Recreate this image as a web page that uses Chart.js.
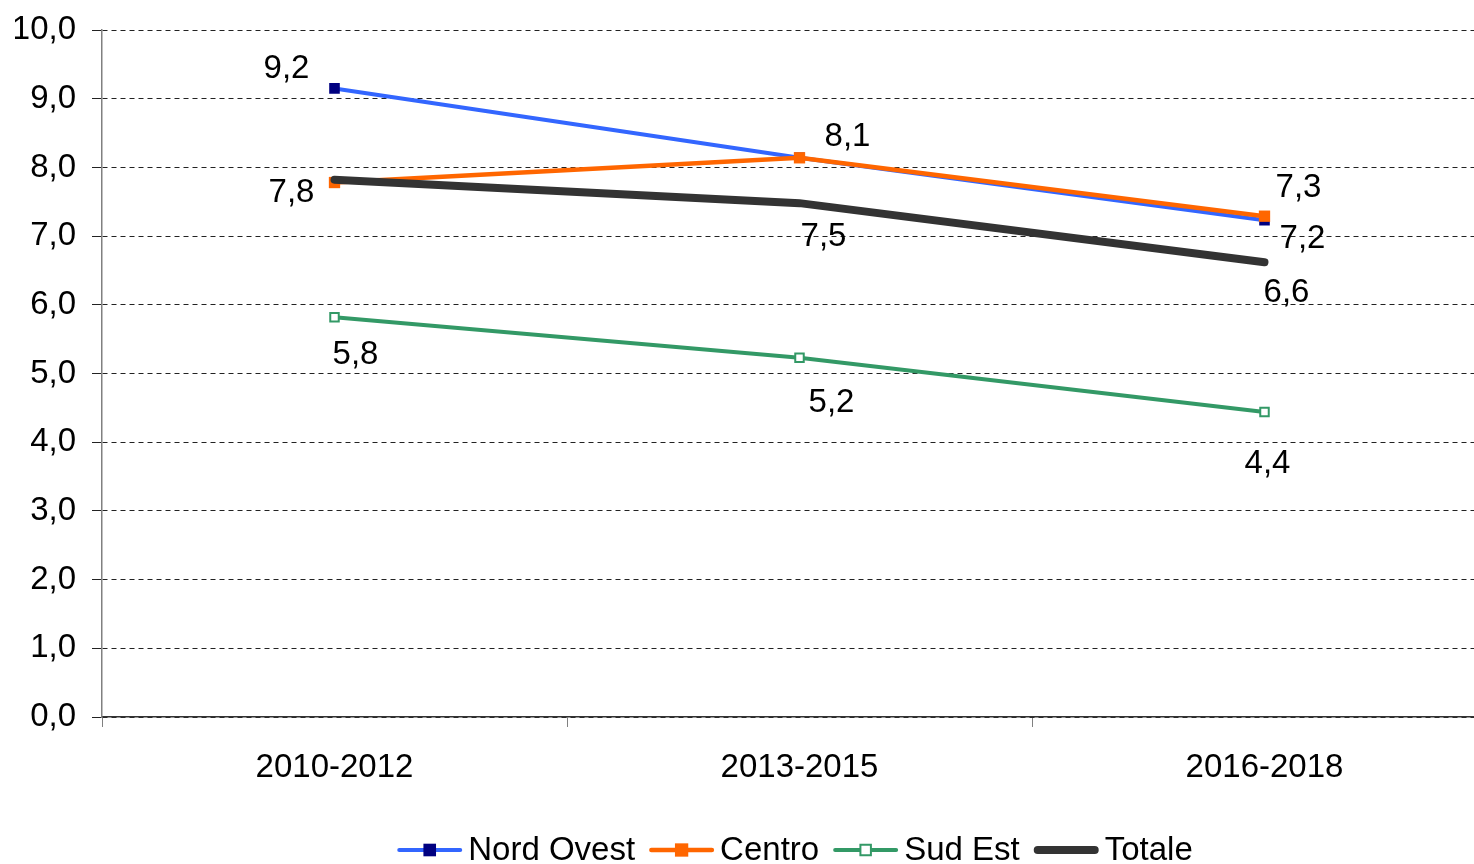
<!DOCTYPE html>
<html>
<head>
<meta charset="utf-8">
<script src="https://cdn.jsdelivr.net/npm/chart.js@4"></script>
<style>
  html, body { margin: 0; padding: 0; background: #fff; overflow: hidden; }
  #wrap { position: absolute; left: 0; top: 0; width: 1590px; height: 864px; }
</style>
</head>
<body>
<div id="wrap"><canvas id="chart" width="1590" height="864"></canvas></div>
<script>
// dati
const categories = ['2010-2012', '2013-2015', '2016-2018'];
const nordOvest = [9.15, 8.14, 7.23];
const centro = [7.78, 8.14, 7.29];
const sudEst = [5.82, 5.23, 4.44];
const totale = [7.82, 7.48, 6.62];
const yTicks = [0, 1, 2, 3, 4, 5, 6, 7, 8, 9, 10];

const FONT = '"Liberation Sans", Arial, sans-serif';
const fmt = v => v.toFixed(1).replace('.', ',');

// spostamento delle etichette rispetto al punto (null = etichetta coperta)
const labelOffsets = [
    [[-48, -20], null, [38, 19]],
    [[-43, 10], [48, -21], [34, -28]],
    [[21, 38], [32, 45], [3, 52]],
    [null, [24, 34], [22, 31]]
];

const valueLabels = {
    id: 'valueLabels',
    afterDatasetsDraw(chart) {
        const ctx = chart.ctx;
        ctx.save();
        ctx.font = '33px ' + FONT;
        ctx.fillStyle = '#000';
        ctx.textAlign = 'center';
        ctx.textBaseline = 'middle';
        chart.data.datasets.forEach((ds, i) => {
            chart.getDatasetMeta(i).data.forEach((pt, j) => {
                const off = labelOffsets[i][j];
                if (!off) return;
                ctx.fillText(fmt(ds.data[j]), pt.x + off[0], pt.y + off[1]);
            });
        });
        ctx.restore();
    }
};

// legenda disegnata a mano (linea + marcatore)
const customLegend = {
    id: 'customLegend',
    afterDraw(chart) {
        const ctx = chart.ctx;
        const y = 850;
        const lineLen = 65;
        ctx.save();
        ctx.font = '33px ' + FONT;
        ctx.textBaseline = 'middle';
        const items = chart.data.datasets.map(ds => ({ ds, w: ctx.measureText(ds.label).width }));
        const total = items.reduce((s, it) => s + lineLen + 6 + it.w + 14, 0) - 14;
        let x = chart.width / 2 - total / 2;
        items.forEach(({ ds, w }) => {
            ctx.strokeStyle = ds.borderColor;
            ctx.lineWidth = ds.borderWidth;
            ctx.lineCap = 'round';
            ctx.beginPath();
            ctx.moveTo(x + ds.borderWidth / 2, y);
            ctx.lineTo(x + lineLen - ds.borderWidth / 2, y);
            ctx.stroke();
            if (ds.pointRadius > 0) {
                const s = ds.pointRadius * Math.SQRT1_2 + 1;
                const cx = x + lineLen / 2;
                ctx.fillStyle = ds.pointBackgroundColor;
                ctx.fillRect(cx - s, y - s, 2 * s, 2 * s);
                if (ds.pointBorderWidth) {
                    ctx.lineWidth = ds.pointBorderWidth;
                    ctx.strokeStyle = ds.pointBorderColor;
                    ctx.strokeRect(cx - s, y - s, 2 * s, 2 * s);
                }
            }
            ctx.fillStyle = '#000';
            ctx.fillText(ds.label, x + lineLen + 6, y + 1);
            x += lineLen + 6 + w + 14;
        });
        ctx.restore();
    }
};

new Chart(document.getElementById('chart'), {
    type: 'line',
    data: {
        labels: categories,
        datasets: [
            {
                label: 'Nord Ovest', data: nordOvest, order: 3,
                borderColor: '#3366FF', borderWidth: 4,
                pointStyle: 'rect', pointRadius: 7.5,
                pointBackgroundColor: '#000080', pointBorderColor: '#000080', pointBorderWidth: 0
            },
            {
                label: 'Centro', data: centro, order: 2,
                borderColor: '#FF6600', borderWidth: 4.5,
                pointStyle: 'rect', pointRadius: 8,
                pointBackgroundColor: '#FF6600', pointBorderColor: '#FF6600', pointBorderWidth: 0
            },
            {
                label: 'Sud Est', data: sudEst, order: 1,
                borderColor: '#339966', borderWidth: 4,
                pointStyle: 'rect', pointRadius: 6,
                pointBackgroundColor: '#ffffff', pointBorderColor: '#339966', pointBorderWidth: 2
            },
            {
                label: 'Totale', data: totale, order: 0,
                borderColor: '#333333', borderWidth: 8, borderCapStyle: 'round',
                pointRadius: 0, pointBackgroundColor: '#333333'
            }
        ]
    },
    options: {
        responsive: false,
        animation: false,
        layout: { padding: { top: 10, right: 93, left: 15, bottom: 60 } },
        plugins: { legend: { display: false }, tooltip: { enabled: false } },
        scales: {
            x: {
                offset: true,
                afterFit(scale) { scale.height = 87; },
                grid: {
                    offset: true, drawOnChartArea: false, tickLength: 10,
                    color: '#808080', tickColor: '#808080'
                },
                border: { color: '#333333', width: 1.5 },
                ticks: { color: '#000', font: { family: FONT, size: 33 }, padding: 21 }
            },
            y: {
                min: 0, max: 10,
                afterBuildTicks(scale) { scale.ticks = yTicks.map(v => ({ value: v })); },
                afterFit(scale) { scale.width = 87; },
                grid: {
                    color: '#222', tickLength: 10,
                    tickColor: '#222', tickBorderDash: []
                },
                border: { color: '#808080', width: 1.5, dash: [5, 4] },
                ticks: {
                    color: '#000', font: { family: FONT, size: 33, lineHeight: 0.85 }, padding: 16,
                    callback: v => fmt(v)
                }
            }
        }
    },
    plugins: [valueLabels, customLegend]
});
</script>
</body>
</html>
